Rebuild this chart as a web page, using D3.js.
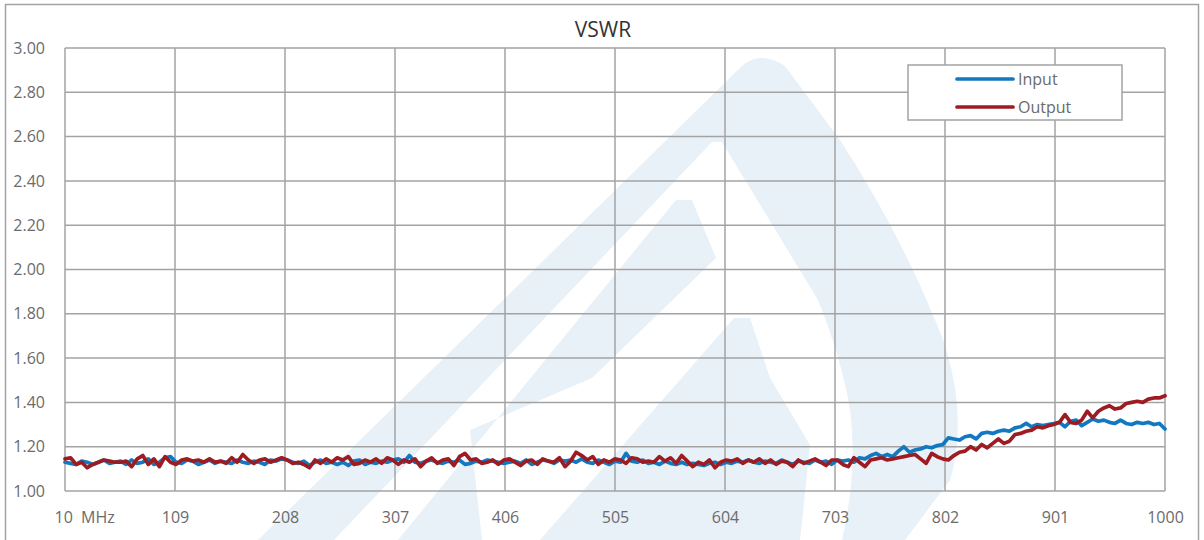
<!DOCTYPE html>
<html>
<head>
<meta charset="utf-8">
<script src="https://cdn.jsdelivr.net/npm/d3@7"></script>
<style>
  html, body { margin: 0; padding: 0; background: #fff; }
  svg { display: block; font-family: "Open Sans", "DejaVu Sans", sans-serif; }
</style>
</head>
<body>
<svg id="chart" width="1204" height="540"></svg>
<script>
// ---- data ----
const freqStart = 10, freqStep = 5;
const inputVSWR = [
  1.13,1.125,1.12,1.135,1.13,1.12,1.13,1.14,1.125,1.13,
  1.135,1.12,1.14,1.125,1.13,1.145,1.12,1.13,1.15,1.155,
  1.13,1.125,1.14,1.135,1.12,1.13,1.14,1.125,1.135,1.13,
  1.125,1.14,1.13,1.125,1.135,1.13,1.12,1.14,1.135,1.145,
  1.14,1.13,1.125,1.135,1.115,1.13,1.14,1.125,1.13,1.12,
  1.13,1.115,1.135,1.14,1.12,1.13,1.125,1.135,1.13,1.14,
  1.145,1.13,1.16,1.13,1.125,1.135,1.14,1.13,1.125,1.135,
  1.13,1.14,1.12,1.125,1.135,1.13,1.14,1.135,1.13,1.125,
  1.13,1.135,1.125,1.14,1.12,1.13,1.14,1.135,1.125,1.14,
  1.135,1.14,1.13,1.145,1.13,1.125,1.14,1.13,1.12,1.135,
  1.13,1.17,1.135,1.13,1.14,1.125,1.13,1.12,1.135,1.125,
  1.12,1.13,1.12,1.125,1.12,1.115,1.125,1.13,1.12,1.13,
  1.125,1.135,1.13,1.14,1.13,1.125,1.135,1.13,1.125,1.14,
  1.13,1.12,1.135,1.13,1.125,1.14,1.13,1.135,1.12,1.14,
  1.135,1.14,1.13,1.15,1.145,1.16,1.17,1.155,1.165,1.155,
  1.18,1.2,1.175,1.185,1.19,1.2,1.195,1.205,1.21,1.24,
  1.235,1.23,1.245,1.25,1.235,1.26,1.265,1.26,1.27,1.275,
  1.27,1.285,1.29,1.305,1.29,1.3,1.295,1.3,1.305,1.31,
  1.29,1.315,1.32,1.295,1.31,1.325,1.315,1.32,1.31,1.305,
  1.32,1.305,1.3,1.31,1.305,1.31,1.3,1.305,1.28
];
const outputVSWR = [
  1.145,1.15,1.12,1.13,1.105,1.12,1.13,1.14,1.135,1.13,
  1.13,1.135,1.11,1.145,1.16,1.12,1.145,1.11,1.155,1.13,
  1.12,1.14,1.145,1.135,1.14,1.13,1.145,1.13,1.135,1.125,
  1.15,1.13,1.165,1.14,1.125,1.14,1.145,1.13,1.14,1.15,
  1.14,1.125,1.13,1.12,1.105,1.14,1.125,1.145,1.13,1.15,
  1.14,1.155,1.12,1.125,1.14,1.13,1.145,1.125,1.15,1.14,
  1.12,1.14,1.13,1.145,1.11,1.135,1.15,1.125,1.14,1.145,
  1.115,1.155,1.17,1.14,1.145,1.125,1.13,1.14,1.12,1.14,
  1.145,1.13,1.115,1.135,1.14,1.12,1.145,1.135,1.13,1.15,
  1.11,1.135,1.175,1.16,1.14,1.155,1.12,1.14,1.13,1.145,
  1.14,1.125,1.15,1.145,1.13,1.135,1.13,1.155,1.135,1.15,
  1.125,1.16,1.135,1.11,1.13,1.12,1.14,1.105,1.13,1.14,
  1.135,1.145,1.125,1.14,1.13,1.145,1.125,1.14,1.12,1.135,
  1.13,1.11,1.14,1.125,1.135,1.145,1.13,1.115,1.14,1.14,
  1.12,1.11,1.15,1.13,1.11,1.14,1.145,1.15,1.14,1.145,
  1.15,1.155,1.16,1.165,1.145,1.125,1.17,1.155,1.145,1.14,
  1.16,1.175,1.18,1.2,1.185,1.21,1.195,1.215,1.235,1.215,
  1.225,1.255,1.26,1.27,1.275,1.29,1.285,1.295,1.3,1.31,
  1.345,1.31,1.305,1.32,1.36,1.33,1.36,1.375,1.385,1.37,
  1.375,1.395,1.4,1.405,1.4,1.415,1.42,1.42,1.43
];
const xTickValues = [10, 109, 208, 307, 406, 505, 604, 703, 802, 901, 1000];
const xTickLabels = ["10  MHz", "109", "208", "307", "406", "505", "604", "703", "802", "901", "1000"];
const yTickValues = [1.0, 1.2, 1.4, 1.6, 1.8, 2.0, 2.2, 2.4, 2.6, 2.8, 3.0];
const seriesNames = ["Input", "Output"];
const seriesColors = ["#1279c1", "#9c1c22"];
const chartTitle = "VSWR";

// ---- layout ----
const svg = d3.select("#chart");
const W = 1204, H = 540;
const plot = { left: 65, top: 48, right: 1165, bottom: 491 };
const gridColor = "#a3a3a3";
const textColor = "#6b6b6b";

const x = d3.scaleLinear().domain([10, 1000]).range([plot.left, plot.right]);
const y = d3.scaleLinear().domain([1.0, 3.0]).range([plot.bottom, plot.top]);

// background
svg.append("rect").attr("x", 0).attr("y", 0).attr("width", W).attr("height", H).attr("fill", "#fff");

// watermark (light logo)
const wm = svg.append("g").attr("fill", "#e8f0f8");
wm.append("path").attr("d",
  "M258,540 L742,66 Q760,50 785,66 L840,140 Q905,240 945,345 Q968,420 950,480 L905,540 L842,540 " +
  "Q858,470 850,410 Q842,360 818,300 L722,142 L712,142 L334,540 Z");
wm.append("path").attr("d",
  "M398,540 L676,200 L692,200 L716,258 L592,378 L470,430 L482,540 Z");
wm.append("path").attr("d",
  "M540,540 L734,318 L750,318 L770,378 L810,445 L800,540 Z");

// horizontal grid
svg.append("g").selectAll("line").data(yTickValues).join("line")
  .attr("x1", plot.left).attr("x2", plot.right)
  .attr("y1", d => y(d)).attr("y2", d => y(d))
  .attr("stroke", gridColor).attr("stroke-width", 1.5);
// vertical grid
svg.append("g").selectAll("line").data(xTickValues).join("line")
  .attr("x1", d => x(d)).attr("x2", d => x(d))
  .attr("y1", plot.top).attr("y2", plot.bottom)
  .attr("stroke", gridColor).attr("stroke-width", 1.5);

// axes (labels only)
const yAxis = svg.append("g").attr("transform", `translate(${plot.left - 20},0)`)
  .call(d3.axisLeft(y).tickValues(yTickValues).tickFormat(d3.format(".2f")).tickSize(0).tickPadding(0));
yAxis.select(".domain").remove();
yAxis.selectAll("text").attr("fill", textColor).attr("font-size", 16).attr("font-family", "'Open Sans', sans-serif");

const xAxis = svg.append("g").attr("transform", `translate(0,${plot.bottom})`)
  .call(d3.axisBottom(x).tickValues(xTickValues).tickFormat((d, i) => xTickLabels[i]).tickSize(0).tickPadding(0));
xAxis.select(".domain").remove();
xAxis.selectAll("text").attr("fill", textColor).attr("font-size", 16).attr("font-family", "'Open Sans', sans-serif")
  .attr("y", 21).attr("dy", "0.71em").style("white-space", "pre");
xAxis.selectAll("text").filter((d, i) => i === 0).attr("text-anchor", "start").attr("dx", -11);

// lines
const line = d3.line().x((d, i) => x(freqStart + i * freqStep)).y(d => y(d));
[inputVSWR, outputVSWR].forEach((s, k) => {
  svg.append("path").datum(s).attr("d", line).attr("fill", "none")
    .attr("stroke", seriesColors[k]).attr("stroke-width", 3.7)
    .attr("stroke-linejoin", "round").attr("stroke-linecap", "round");
});

// title
svg.append("text").attr("x", 603).attr("y", 37).attr("text-anchor", "middle")
  .attr("font-size", 21).attr("fill", "#333").text(chartTitle);

// legend
const lg = svg.append("g");
lg.append("rect").attr("x", 908).attr("y", 65).attr("width", 214).attr("height", 55)
  .attr("fill", "#fff").attr("stroke", gridColor).attr("stroke-width", 1.5);
seriesNames.forEach((n, i) => {
  const yy = 79 + i * 28;
  lg.append("line").attr("x1", 957).attr("x2", 1013).attr("y1", yy).attr("y2", yy)
    .attr("stroke", seriesColors[i]).attr("stroke-width", 3.7).attr("stroke-linecap", "round");
  lg.append("text").attr("x", 1018).attr("y", yy).attr("dy", "0.35em")
    .attr("font-size", 16).attr("fill", textColor).text(n);
});

// outer chart border
svg.append("rect").attr("x", 5.5).attr("y", 4.5).attr("width", 1193).attr("height", 545)
  .attr("fill", "none").attr("stroke", gridColor).attr("stroke-width", 1.5);
</script>
</body>
</html>
